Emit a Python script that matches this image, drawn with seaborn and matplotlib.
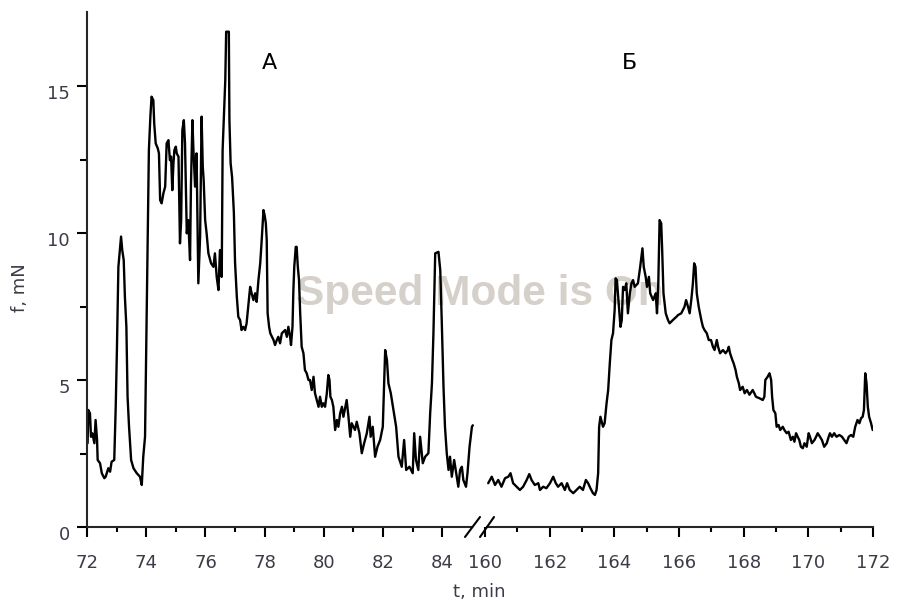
import numpy as np
import pandas as pd
import matplotlib
matplotlib.use("Agg")
import matplotlib.pyplot as plt
from matplotlib.lines import Line2D
import matplotlib.transforms as mtransforms
import seaborn as sns

# ---------------- data ----------------
time_a = [72.02, 72.045, 72.10, 72.135, 72.18, 72.25, 72.29, 72.34, 72.36, 72.44, 72.50, 72.585, 72.63,
          72.72, 72.78, 72.83, 72.92, 72.97, 73.01, 73.06, 73.10, 73.15, 73.19, 73.24, 73.28, 73.33, 73.37,
          73.42, 73.49, 73.57, 73.68, 73.79, 73.85, 73.90, 73.96, 74.00, 74.05, 74.09, 74.14, 74.18, 74.24,
          74.27, 74.32, 74.39, 74.43, 74.47, 74.52, 74.58, 74.64, 74.69, 74.75, 74.80, 74.84, 74.88, 74.92,
          74.95, 75.00, 75.03, 75.09, 75.14, 75.18, 75.22, 75.27, 75.31, 75.37, 75.42, 75.48, 75.51, 75.56,
          75.59, 75.65, 75.70, 75.76, 75.82, 75.87, 75.91, 75.94, 75.99, 76.04, 76.10, 76.19, 76.27, 76.32,
          76.38, 76.44, 76.49, 76.55, 76.58, 76.63, 76.67, 76.70, 76.79, 76.81, 76.85, 76.90, 76.96, 77.00,
          77.06, 77.11, 77.17, 77.22, 77.28, 77.34, 77.39, 77.51, 77.56, 77.62, 77.68, 77.73, 77.79, 77.85,
          77.90, 77.96, 78.00, 78.04, 78.07, 78.10, 78.15, 78.19, 78.30, 78.35, 78.41, 78.46, 78.52, 78.58,
          78.69, 78.75, 78.80, 78.86, 78.89, 78.94, 78.97, 79.00, 79.05, 79.08, 79.12, 79.16, 79.20, 79.25,
          79.31, 79.36, 79.42, 79.48, 79.53, 79.59, 79.65, 79.70, 79.76, 79.82, 79.87, 79.93, 79.98, 80.04,
          80.10, 80.15, 80.19, 80.22, 80.27, 80.32, 80.38, 80.44, 80.49, 80.55, 80.61, 80.66, 80.77, 80.83,
          80.89, 80.94, 81.05, 81.11, 81.20, 81.28, 81.36, 81.45, 81.54, 81.58, 81.65, 81.73, 81.81, 81.90,
          81.99, 82.07, 82.13, 82.18, 82.26, 82.35, 82.44, 82.52, 82.63, 82.71, 82.78, 82.89, 83.00, 83.05,
          83.11, 83.19, 83.25, 83.34, 83.42, 83.53, 83.59, 83.65, 83.70, 83.76, 83.87, 83.93, 83.98, 84.04,
          84.09, 84.15, 84.21, 84.26, 84.32, 84.40, 84.47, 84.54, 84.60, 84.66, 84.71, 84.80, 84.85, 84.92,
          85.00, 85.03]
force_a = [2.85, 3.98, 3.87, 3.07, 3.19, 2.85, 3.64, 2.96, 2.28, 2.17, 1.83, 1.66, 1.71,
           2.00, 1.88, 2.22, 2.28, 4.09, 6.02, 8.85, 9.31, 9.88, 9.42, 9.08, 7.83, 6.81, 4.43,
           3.41, 2.28, 2.00, 1.83, 1.71, 1.43, 2.39, 3.07, 6.13, 10.10, 12.82, 13.96, 14.64, 14.52,
           13.73, 13.05, 12.88, 12.71, 11.12, 11.01, 11.35, 11.58, 13.05, 13.16, 12.48, 12.60, 11.46, 12.37,
           12.82, 12.94, 12.71, 12.60, 9.65, 10.44, 13.50, 13.84, 13.05, 9.99, 10.44, 9.08, 11.58, 13.84,
           12.94, 11.58, 12.71, 8.29, 9.88, 13.96, 12.26, 11.80, 10.44, 9.99, 9.31, 8.97, 8.85, 9.31,
           8.51, 8.06, 9.42, 8.51, 12.82, 14.18, 15.20, 16.85, 16.85, 13.84, 12.38, 11.90, 10.70, 9.00,
           7.83, 7.15, 7.04, 6.70, 6.81, 6.70, 6.93, 8.17, 7.95, 7.72, 7.95, 7.66, 8.40, 8.97,
           9.76, 10.78, 10.60, 10.33, 9.76, 7.27, 6.81, 6.59, 6.36, 6.19, 6.36, 6.47, 6.25, 6.59,
           6.70, 6.47, 6.81, 6.47, 6.19, 6.81, 8.06, 8.85, 9.53, 9.53, 8.85, 8.40, 7.27, 6.13,
           5.91, 5.34, 5.23, 5.00, 5.00, 4.66, 5.11, 4.55, 4.32, 4.09, 4.43, 4.09, 4.21, 4.09,
           4.55, 5.17, 5.00, 4.43, 4.32, 4.09, 3.30, 3.64, 3.41, 3.87, 4.09, 3.75, 4.32, 3.75,
           3.07, 3.53, 3.30, 3.58, 3.19, 2.51, 2.85, 3.19, 3.75, 3.07, 3.41, 2.39, 2.73, 2.96,
           3.41, 6.02, 5.68, 4.89, 4.55, 3.98, 3.41, 2.39, 2.05, 2.96, 1.94, 2.05, 1.83, 3.19,
           2.28, 1.94, 3.07, 2.17, 2.39, 2.51, 3.87, 4.89, 6.59, 9.31, 9.36, 8.74, 7.04, 4.77,
           3.41, 2.51, 1.94, 2.39, 1.71, 2.28, 1.83, 1.37, 1.94, 2.05, 1.60, 1.37, 1.83, 2.73,
           3.41, 3.46]

time_b = [160.10, 160.21, 160.31, 160.41, 160.51, 160.62, 160.72, 160.79, 160.87, 160.98, 161.08, 161.18,
          161.29, 161.37, 161.44, 161.54, 161.65, 161.70, 161.80, 161.90, 162.01, 162.11, 162.19, 162.26,
          162.37, 162.47, 162.54, 162.62, 162.73, 162.83, 162.93, 163.03, 163.12, 163.19, 163.26, 163.34,
          163.40, 163.45, 163.50, 163.53, 163.57, 163.65, 163.70, 163.76, 163.81, 163.86, 163.91, 163.96,
          164.01, 164.04, 164.08, 164.15, 164.19, 164.23, 164.27, 164.32, 164.37, 164.42, 164.48, 164.53,
          164.58, 164.63, 164.73, 164.80, 164.87, 164.91, 164.97, 165.01, 165.07, 165.11, 165.20, 165.28,
          165.32, 165.36, 165.40, 165.45, 165.48, 165.52, 165.59, 165.66, 165.71, 165.81, 165.92, 165.97,
          166.07, 166.17, 166.22, 166.28, 166.33, 166.38, 166.43, 166.47, 166.51, 166.55, 166.61, 166.69,
          166.74, 166.79, 166.86, 166.92, 166.99, 167.05, 167.10, 167.17, 167.21, 167.27, 167.36, 167.44,
          167.51, 167.54, 167.58, 167.65, 167.69, 167.75, 167.79, 167.85, 167.89, 167.97, 168.03, 168.10,
          168.18, 168.28, 168.33, 168.38, 168.49, 168.59, 168.64, 168.67, 168.74, 168.80, 168.85, 168.88,
          168.92, 168.98, 169.02, 169.08, 169.13, 169.21, 169.26, 169.33, 169.39, 169.46, 169.52, 169.57,
          169.62, 169.67, 169.72, 169.77, 169.83, 169.88, 169.95, 170.01, 170.05, 170.11, 170.19, 170.24,
          170.29, 170.36, 170.42, 170.49, 170.57, 170.63, 170.67, 170.73, 170.80, 170.87, 170.96, 171.04,
          171.11, 171.18, 171.25, 171.32, 171.39, 171.45, 171.52, 171.58, 171.63, 171.68, 171.72, 171.76,
          171.80, 171.84, 171.88, 171.94, 171.99]
force_b = [1.49, 1.71, 1.43, 1.60, 1.37, 1.66, 1.71, 1.83, 1.49, 1.37, 1.26, 1.37,
           1.60, 1.80, 1.60, 1.43, 1.49, 1.26, 1.37, 1.32, 1.49, 1.71, 1.49, 1.37,
           1.49, 1.26, 1.49, 1.26, 1.15, 1.26, 1.37, 1.26, 1.60, 1.49, 1.32, 1.15,
           1.09, 1.26, 1.83, 3.41, 3.75, 3.41, 3.53, 4.21, 4.66, 5.57, 6.36, 6.59,
           7.38, 8.46, 8.40, 7.38, 6.81, 7.04, 8.17, 8.06, 8.29, 7.27, 7.95, 8.29,
           8.40, 8.17, 8.29, 8.85, 9.48, 8.85, 8.51, 8.17, 8.51, 7.95, 7.72, 7.95,
           7.27, 8.29, 10.44, 10.33, 9.42, 7.95, 7.27, 7.04, 6.93, 7.04, 7.15, 7.21,
           7.27, 7.49, 7.72, 7.49, 7.27, 7.72, 8.29, 8.97, 8.85, 7.95, 7.49, 7.04,
           6.81, 6.70, 6.59, 6.36, 6.36, 6.13, 6.02, 6.36, 6.13, 5.91, 6.02, 5.91,
           6.02, 6.13, 5.91, 5.68, 5.57, 5.34, 5.11, 4.89, 4.66, 4.77, 4.55, 4.66,
           4.50, 4.66, 4.55, 4.43, 4.38, 4.32, 4.43, 5.00, 5.11, 5.23, 5.00, 4.43,
           3.98, 3.87, 3.41, 3.47, 3.30, 3.41, 3.30, 3.19, 3.24, 2.96, 3.07, 2.90,
           3.19, 3.07, 2.96, 2.73, 2.68, 2.85, 2.73, 3.19, 3.07, 2.85, 2.96, 3.07,
           3.19, 3.07, 2.96, 2.73, 2.85, 3.07, 3.19, 3.07, 3.19, 3.07, 3.13, 3.07,
           2.96, 2.85, 3.07, 3.13, 3.07, 3.41, 3.64, 3.53, 3.70, 3.75, 3.98, 5.23,
           4.89, 4.09, 3.75, 3.53, 3.30]

xticks_a = [72, 74, 76, 78, 80, 82, 84]
xticks_b = [160, 162, 164, 166, 168, 170, 172]
yticks = [0, 5, 10, 15]
panel_labels = ["А", "Б"]
x_label = "t, min"
y_label = "f, mN"
watermark = "Speed Mode is On"

# ---------------- style ----------------
sns.set_theme(style="ticks")
plt.rcParams["font.family"] = ["DejaVu Sans"]

W, H = 907, 602
fig = plt.figure(figsize=(W / 100, H / 100), dpi=100)
fig.patch.set_facecolor("white")

def fx(px):
    return px / W

def fy(py):
    return 1 - py / H

y0_px, ytop_px = 527, 12
axL = fig.add_axes([fx(87), fy(y0_px), (474 - 87) / W, (y0_px - ytop_px) / H])
axR = fig.add_axes([fx(480), fy(y0_px), (873 - 480) / W, (y0_px - ytop_px) / H])

df_a = pd.DataFrame({"t": time_a, "f": force_a})
df_b = pd.DataFrame({"t": time_b, "f": force_b})
sns.lineplot(data=df_a, x="t", y="f", ax=axL, color="black", lw=1.7,
             estimator=None, sort=False)
sns.lineplot(data=df_b, x="t", y="f", ax=axR, color="black", lw=1.7,
             estimator=None, sort=False)

ymax = 17.52
tick_col = "#3c3c48"
for ax in (axL, axR):
    ax.set_facecolor("none")
    ax.set_ylim(0, ymax)
    ax.set_xlabel("")
    ax.set_ylabel("")
    ax.spines["top"].set_visible(False)
    ax.spines["right"].set_visible(False)
    ax.spines["bottom"].set_linewidth(1.5)
    ax.spines["left"].set_linewidth(1.5)
    ax.tick_params(axis="both", which="major", direction="out", length=7.2, width=1.5,
                   color="black", labelsize=13, labelcolor=tick_col)
    ax.tick_params(axis="both", which="minor", direction="out", length=3.8, width=1.5,
                   color="black")
    ax.tick_params(axis="x", which="major", pad=12)

axL.set_xlim(72, 85.07)
axR.set_xlim(159.846, 172)

axL.set_xticks(xticks_a)
axL.set_xticks([73, 75, 77, 79, 81, 83], minor=True)
axR.set_xticks(xticks_b)
axR.set_xticks([161, 163, 165, 167, 169, 171], minor=True)

axL.set_yticks(yticks)
axL.set_yticks([2.5, 7.5, 12.5], minor=True)
axL.tick_params(axis="y", which="minor", length=5.2)
axL.tick_params(axis="y", which="major", pad=5)
axL.spines["bottom"].set_bounds(72, 85.0)
axL.spines["left"].set_bounds(0, ymax)

axR.spines["left"].set_visible(False)
axR.tick_params(axis="y", which="both", left=False, labelleft=False)
axR.spines["bottom"].set_bounds(160.05, 172)

# shift y tick labels slightly downward as in the reference
offset = mtransforms.ScaledTranslation(0, -6 / 100, fig.dpi_scale_trans)
for lab in axL.get_yticklabels():
    lab.set_transform(lab.get_transform() + offset)

# axis break marks
for (xa, xb) in ((465, 480), (480, 494)):
    fig.add_artist(Line2D([fx(xa), fx(xb)], [fy(537), fy(517)], transform=fig.transFigure,
                          color="black", lw=1.5))

# panel labels
axL.text(78.17, 15.8, panel_labels[0], fontsize=16, ha="center", va="center", color="black")
axR.text(164.48, 15.8, panel_labels[1], fontsize=16, ha="center", va="center", color="black")

# axis labels
fig.text(fx(479), fy(592), x_label, fontsize=13, ha="center", va="center", color=tick_col)
fig.text(fx(20), fy(288), y_label, fontsize=13, ha="center", va="center", rotation=90,
         color=tick_col)

# watermark
fig.text(fx(480), fy(294), watermark, fontsize=30.5, fontweight="bold",
         family=["Liberation Sans", "DejaVu Sans"], color="#d6d0ca",
         ha="center", va="center", zorder=-1)

fig.savefig("out.png", dpi=100, facecolor="white")
